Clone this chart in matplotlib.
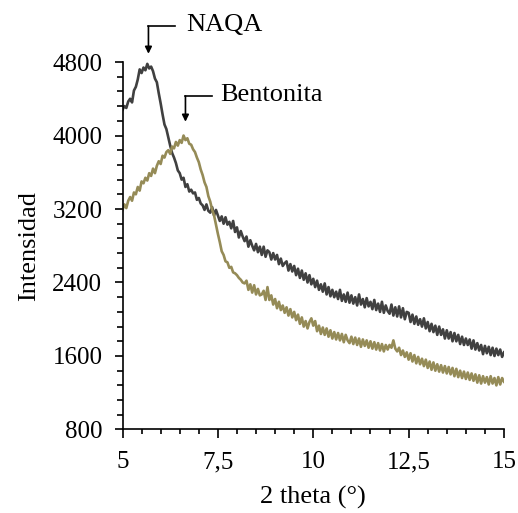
import numpy as np
import matplotlib
matplotlib.use('Agg')
import matplotlib.pyplot as plt
from matplotlib.ticker import MultipleLocator, FuncFormatter

# 2 theta from 5 to 15 in steps of 0.05
# NAQA intensities
naqa = [
    4280, 4320, 4300, 4370, 4400, 4360, 4490, 4530, 4610, 4720,  # 5.00
    4680, 4740, 4710, 4780, 4730, 4750, 4700, 4620, 4580, 4460,  # 5.50
    4350, 4230, 4120, 4070, 3980, 3890, 3810, 3760, 3700, 3620,  # 6.00
    3590, 3520, 3540, 3440, 3470, 3390, 3410, 3370, 3380, 3300,  # 6.50
    3320, 3260, 3240, 3190, 3250, 3180, 3160, 3220, 3130, 3190,  # 7.00
    3130, 3070, 3120, 3040, 3110, 3030, 3060, 2990, 3070, 2950,  # 7.50
    3000, 2890, 2960, 2900, 2850, 2900, 2790, 2860, 2800, 2750,  # 8.00
    2820, 2730, 2790, 2700, 2790, 2680, 2750, 2730, 2650, 2720,  # 8.50
    2650, 2700, 2600, 2660, 2580, 2610, 2630, 2530, 2600, 2520,  # 9.00
    2580, 2480, 2550, 2450, 2530, 2430, 2500, 2400, 2480, 2380,  # 9.50
    2440, 2350, 2420, 2320, 2380, 2300, 2390, 2270, 2350, 2250,  # 10.00
    2320, 2240, 2300, 2220, 2320, 2200, 2270, 2190, 2290, 2180,  # 10.50
    2260, 2170, 2240, 2150, 2270, 2160, 2220, 2130, 2230, 2140,  # 11.00
    2190, 2110, 2210, 2100, 2170, 2080, 2190, 2070, 2150, 2090,  # 11.50
    2060, 2160, 2040, 2130, 2030, 2140, 2020, 2120, 2000, 2080,  # 12.00
    2070, 1970, 2050, 1950, 2030, 1940, 2000, 1920, 2010, 1900,  # 12.50
    1970, 1870, 1950, 1860, 1930, 1830, 1920, 1830, 1890, 1790,  # 13.00
    1880, 1790, 1860, 1760, 1850, 1760, 1830, 1730, 1810, 1720,  # 13.50
    1790, 1720, 1780, 1680, 1770, 1670, 1740, 1660, 1720, 1620,  # 14.00
    1710, 1630, 1700, 1610, 1690, 1600, 1680, 1610, 1670, 1590,  # 14.50
    1640,                                                        # 15.00
]

# Bentonita intensities
bentonita = [
    3190, 3250, 3210, 3290, 3330, 3290, 3380, 3360, 3440, 3400,  # 5.00
    3500, 3480, 3540, 3510, 3590, 3560, 3640, 3590, 3670, 3720,  # 5.50
    3690, 3780, 3760, 3820, 3840, 3800, 3880, 3860, 3930, 3890,  # 6.00
    3950, 3920, 4000, 3950, 3970, 3910, 3900, 3850, 3820, 3760,  # 6.50
    3710, 3630, 3570, 3490, 3440, 3340, 3280, 3190, 3130, 3030,  # 7.00
    2930, 2840, 2740, 2700, 2630, 2620, 2560, 2570, 2510, 2500,  # 7.50
    2480, 2450, 2430, 2400, 2390, 2420, 2320, 2380, 2290, 2370,  # 8.00
    2270, 2330, 2260, 2270, 2310, 2210, 2350, 2210, 2260, 2160,  # 8.50
    2220, 2120, 2190, 2100, 2150, 2070, 2130, 2040, 2110, 2020,  # 9.00
    2080, 1990, 2050, 1950, 2020, 1920, 1980, 1900, 1970, 2010,  # 9.50
    1930, 1980, 1870, 1930, 1840, 1910, 1830, 1900, 1810, 1880,  # 10.00
    1790, 1860, 1780, 1850, 1770, 1840, 1750, 1830, 1770, 1740,  # 10.50
    1810, 1730, 1800, 1720, 1790, 1700, 1780, 1710, 1770, 1690,  # 11.00
    1760, 1680, 1750, 1670, 1740, 1660, 1730, 1650, 1720, 1670,  # 11.50
    1720, 1690, 1770, 1680, 1650, 1690, 1610, 1660, 1590, 1640,  # 12.00
    1560, 1630, 1540, 1610, 1520, 1590, 1510, 1570, 1490, 1560,  # 12.50
    1470, 1540, 1450, 1530, 1440, 1510, 1430, 1500, 1420, 1490,  # 13.00
    1410, 1480, 1400, 1470, 1380, 1460, 1370, 1440, 1360, 1430,  # 13.50
    1350, 1420, 1340, 1410, 1330, 1400, 1310, 1390, 1300, 1380,  # 14.00
    1310, 1370, 1290, 1380, 1300, 1360, 1280, 1370, 1290, 1360,  # 14.50
    1320,                                                        # 15.00
]

two_theta = 5 + 0.05 * np.arange(len(naqa))

plt.rcParams['font.family'] = ['Liberation Serif', 'DejaVu Serif']

fig = plt.figure(figsize=(5.18, 5.13), dpi=100)
ax = fig.add_axes([0.2365, 0.1628, 0.7365, 0.7163])

ax.plot(two_theta, naqa, color='#404040', lw=1.9)
ax.plot(two_theta, bentonita, color='#958b57', lw=1.9)

ax.set_xlim(5, 15)
ax.set_ylim(800, 4800)
ax.xaxis.set_major_locator(MultipleLocator(2.5))
ax.xaxis.set_minor_locator(MultipleLocator(0.5))
ax.yaxis.set_major_locator(MultipleLocator(800))
ax.yaxis.set_minor_locator(MultipleLocator(160))
ax.xaxis.set_major_formatter(FuncFormatter(lambda v, p: ('%g' % v).replace('.', ',')))

for s in ['top', 'right']:
    ax.spines[s].set_visible(False)
for s in ['left', 'bottom']:
    ax.spines[s].set_linewidth(1.2)

ax.tick_params(axis='x', which='major', length=6.5, width=1.2, pad=9, labelsize=18)
ax.tick_params(axis='x', which='minor', length=3.5, width=1.2)
ax.tick_params(axis='y', which='major', length=5.5, width=1.2, pad=9, labelsize=18)
ax.tick_params(axis='y', which='minor', length=4.5, width=1.2)

ax.set_xlabel('2 theta (°)', fontsize=19, labelpad=9)
ax.set_ylabel('Intensidad', fontsize=19, labelpad=9)

# bracket arrows with labels above the peaks
ax.annotate('', xy=(5.68, 4890), xytext=(5.68, 5190),
            arrowprops=dict(arrowstyle='-|>', color='black', lw=1.2, shrinkA=0, shrinkB=0),
            annotation_clip=False)
ax.plot([5.68, 6.38], [5190, 5190], color='black', lw=1.2, clip_on=False)
ax.text(6.66, 5205, 'NAQA', fontsize=19, ha='left', va='center')

ax.annotate('', xy=(6.65, 4150), xytext=(6.65, 4430),
            arrowprops=dict(arrowstyle='-|>', color='black', lw=1.2, shrinkA=0, shrinkB=0),
            annotation_clip=False)
ax.plot([6.65, 7.35], [4430, 4430], color='black', lw=1.2, clip_on=False)
ax.text(7.55, 4445, 'Bentonita', fontsize=19, ha='left', va='center')

plt.savefig('out.png', dpi=100)
